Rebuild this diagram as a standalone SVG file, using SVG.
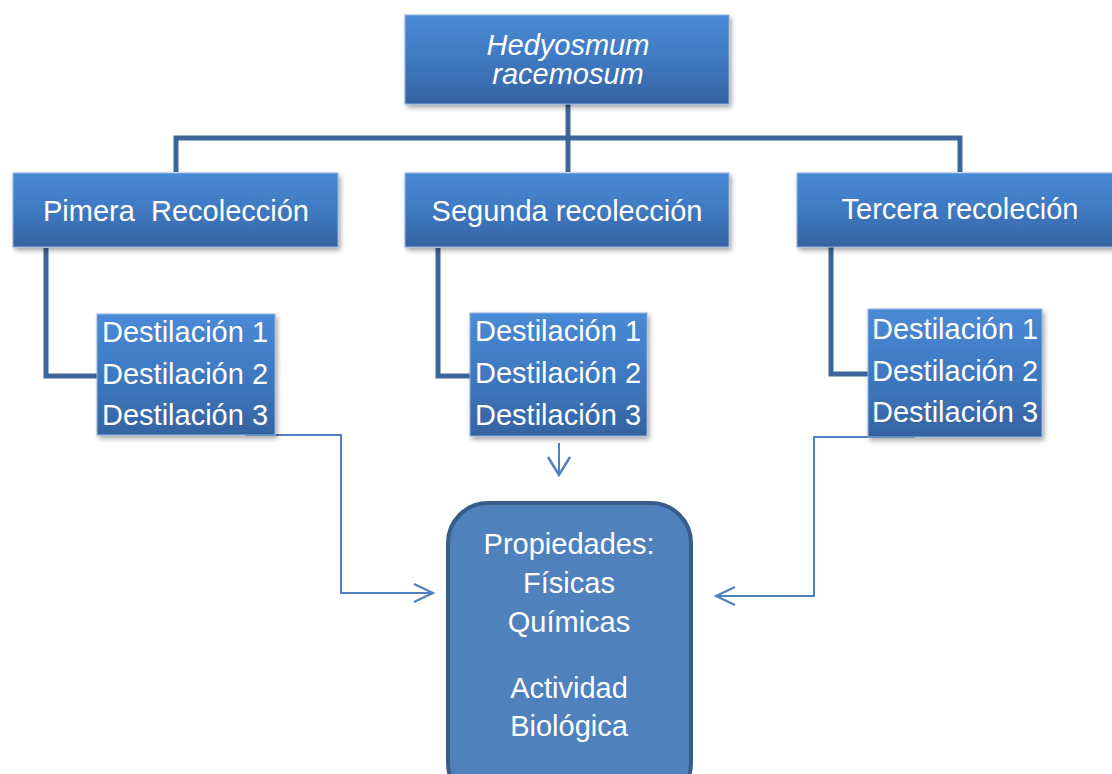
<svg xmlns="http://www.w3.org/2000/svg" width="1112" height="774" viewBox="0 0 1112 774">
<defs>
<linearGradient id="g" x1="0" y1="0" x2="0" y2="1">
<stop offset="0" stop-color="#4a8ad6"/>
<stop offset="0.5" stop-color="#3f79c1"/>
<stop offset="1" stop-color="#3563a1"/>
</linearGradient>
<filter id="sh" x="-10%" y="-10%" width="125%" height="130%">
<feDropShadow dx="2" dy="3" stdDeviation="2.5" flood-color="#000" flood-opacity="0.35"/>
</filter>
<marker id="ah" viewBox="0 0 22 22" refX="20" refY="11" markerWidth="22" markerHeight="22" markerUnits="userSpaceOnUse" orient="auto">
<path d="M1,2 L20,11 L1,20" fill="none" stroke="#4f81bd" stroke-width="2.2"/>
</marker>
<marker id="ah2" viewBox="0 0 22 26" refX="20" refY="13" markerWidth="22" markerHeight="26" markerUnits="userSpaceOnUse" orient="auto">
<path d="M1,2 L19,13 L1,24" fill="none" stroke="#4f81bd" stroke-width="2.4"/>
</marker>
</defs>
<style>
.box{fill:url(#g);stroke:#8db3e2;stroke-width:1;filter:url(#sh)}
.t{font-family:"Liberation Sans",Arial,sans-serif;font-size:29px;fill:#fff}
.c{text-anchor:middle}
.thick{fill:none;stroke:#3c6699;stroke-width:5}
.thin{fill:none;stroke:#4f81bd;stroke-width:2}
</style>
<g id="connectors">
<path class="thick" d="M568,104 V138 M176,172 V138 H960 V172 M568,138 V172"/>
<path class="thick" d="M46,248 V376 H98"/>
<path class="thick" d="M438,248 V376 H471"/>
<path class="thick" d="M831,247 V374 H869"/>
<path class="thin" d="M246,435 H341 V593 H433" marker-end="url(#ah)"/>
<path class="thin" d="M559,443 V476" marker-end="url(#ah2)"/>
<path class="thin" d="M915,437 H814 V596 H716" marker-end="url(#ah)"/>
</g>
<g id="root">
<rect class="box" x="405" y="15" width="324" height="89"/>
<text class="t c" x="568" y="55" font-style="italic">Hedyosmum</text>
<text class="t c" x="568" y="84" font-style="italic">racemosum</text>
</g>
<g id="rec1">
<rect class="box" x="13" y="173" width="325" height="74"/>
<text class="t c" x="176" y="221" xml:space="preserve">Pimera  Recolección</text>
</g>
<g id="rec2">
<rect class="box" x="405" y="173" width="324" height="74"/>
<text class="t c" x="567" y="221">Segunda recolección</text>
</g>
<g id="rec3">
<rect class="box" x="797" y="173" width="325" height="74"/>
<text class="t c" x="960" y="219">Tercera recoleción</text>
</g>
<g id="dest1">
<rect class="box" x="97" y="314" width="178" height="121"/>
<text class="t" x="102" y="342">Destilación 1</text>
<text class="t" x="102" y="384">Destilación 2</text>
<text class="t" x="102" y="425">Destilación 3</text>
</g>
<g id="dest2">
<rect class="box" x="470" y="313" width="177" height="123"/>
<text class="t" x="475" y="341">Destilación 1</text>
<text class="t" x="475" y="383">Destilación 2</text>
<text class="t" x="475" y="425">Destilación 3</text>
</g>
<g id="dest3">
<rect class="box" x="868" y="309" width="174" height="128"/>
<text class="t" x="872" y="339">Destilación 1</text>
<text class="t" x="872" y="381">Destilación 2</text>
<text class="t" x="872" y="422">Destilación 3</text>
</g>
<g id="props">
<rect x="448" y="503" width="243" height="300" rx="40" ry="40" fill="#4f81bd" stroke="#385d8a" stroke-width="4"/>
<text class="t c" x="569" y="554">Propiedades:</text>
<text class="t c" x="569" y="593">Físicas</text>
<text class="t c" x="569" y="632">Químicas</text>
<text class="t c" x="569" y="698">Actividad</text>
<text class="t c" x="569" y="736">Biológica</text>
</g>
</svg>
